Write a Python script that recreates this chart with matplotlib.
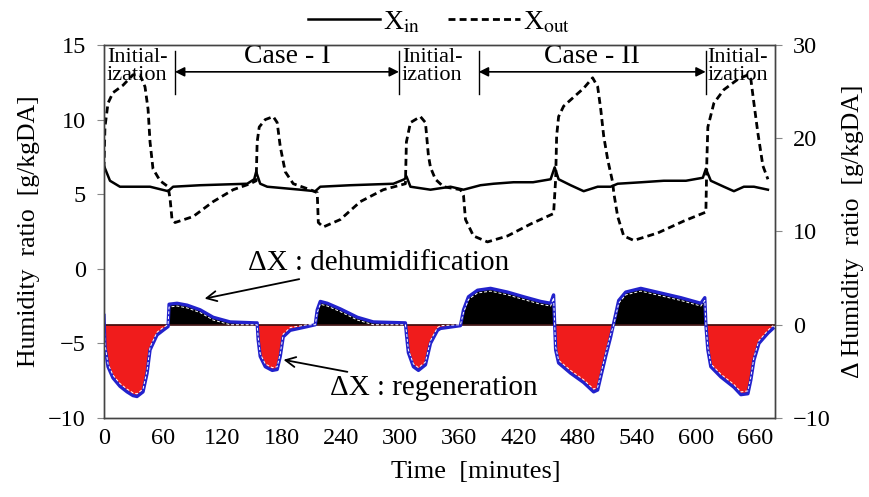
import numpy as np
import matplotlib.pyplot as plt

plt.rcParams['font.family'] = ['Liberation Serif', 'DejaVu Serif']
plt.rcParams['mathtext.fontset'] = 'stix'

# inlet humidity ratio [g/kgDA] (left axis)
t_in = [0, 6.1, 16.2, 46.7, 65.0, 70.1, 97.5, 145.2, 152.3, 154.3, 158.4, 165.5,
        199.0, 214.2, 219.3, 249.7, 293.4, 304.6, 306.6, 310.7, 331.0, 351.3,
        364.5, 381.7, 395.0, 415.2, 435.0, 452.8, 456.9, 460.9, 473.1, 486.3,
        500.5, 513.7, 520.8, 545.0, 567.5, 590.0, 607.1, 610.2, 615.2, 628.4,
        638.6, 648.7, 658.9, 673.1]
x_in = [6.9, 5.9, 5.5, 5.5, 5.2, 5.5, 5.6, 5.7, 6.0, 6.5, 5.7, 5.5,
        5.3, 5.2, 5.5, 5.6, 5.7, 6.0, 6.2, 5.5, 5.3, 5.5,
        5.3, 5.6, 5.7, 5.8, 5.8, 6.0, 6.8, 6.0, 5.6, 5.2,
        5.5, 5.5, 5.7, 5.8, 5.9, 5.9, 6.1, 6.7, 5.9, 5.5,
        5.2, 5.5, 5.5, 5.3]

# outlet humidity ratio [g/kgDA] (left axis)
t_out = [0, 1.0, 4.1, 9.1, 19.3, 29.4, 36.5, 41.6, 44.7, 46.7, 49.7, 56.9,
         65.0, 67.0, 69.0, 72.1, 90.4, 110.7, 131.0, 148.2, 154.3, 155.3,
         157.4, 163.5, 171.6, 175.6, 178.7, 183.8, 191.9, 209.1, 216.2, 217.3,
         222.3, 239.6, 259.9, 283.2, 305.6, 306.6, 310.7, 320.8, 325.9, 328.9,
         331.0, 336.0, 344.2, 361.4, 364.5, 366.5, 374.6, 388.8, 409.1, 432.5,
         455.8, 457.9, 458.9, 460.9, 466.0, 476.1, 486.3, 495.4, 500.5, 503.6,
         506.6, 510.7, 515.7, 516.8, 520.8, 526.9, 537.1, 561.4, 587.8, 610.2,
         611.2, 612.2, 618.3, 628.4, 642.6, 652.8, 655.8, 658.9, 662.9, 668.0,
         673.1]
x_out = [6.7, 9.5, 11.1, 11.8, 12.3, 13.0, 13.0, 12.2, 10.7, 8.5, 6.7, 5.9,
         5.5, 4.7, 3.3, 3.1, 3.5, 4.5, 5.3, 5.7, 5.9, 8.5,
         9.5, 10.0, 10.2, 9.8, 8.2, 6.5, 5.7, 5.3, 5.1, 3.1,
         2.8, 3.3, 4.5, 5.3, 5.7, 8.5, 9.8, 10.2, 9.8, 7.6,
         6.8, 6.0, 5.5, 5.3, 4.9, 3.3, 2.2, 1.8, 2.2, 3.0,
         3.7, 6.0, 8.9, 10.2, 10.9, 11.5, 12.1, 12.8, 12.2, 10.7,
         8.9, 7.3, 5.8, 5.1, 3.5, 2.2, 1.9, 2.4, 3.2, 3.8,
         7.3, 9.5, 11.1, 12.0, 12.7, 13.0, 12.7, 11.1, 9.1, 6.9,
         6.0]

# humidity difference [g/kgDA] (right axis)
t_dx = [0, 0.3, 1.0, 4.1, 9.1, 16.2, 23.4, 29.4, 33.5, 39.6, 43.7, 46.7,
        53.8, 59.9, 65.0, 66.0, 74.1, 84.3, 97.5, 110.7, 127.9, 153.3, 155.3,
        156.3, 158.4, 163.5, 170.6, 175.6, 178.7, 181.7, 188.8, 206.1, 214.2,
        216.2, 219.3, 226.4, 239.6, 256.9, 273.1, 305.6, 306.6, 308.6, 313.7,
        318.8, 325.9, 331.0, 338.1, 341.1, 361.4, 364.5, 369.5, 378.7, 391.9,
        409.1, 425.4, 442.6, 452.8, 455.8, 456.9, 457.9, 460.9, 473.1, 486.3,
        496.4, 500.5, 503.6, 508.6, 513.7, 516.8, 521.8, 528.9, 544.2, 564.5,
        584.8, 605.1, 609.1, 610.2, 612.2, 615.2, 625.4, 638.6, 645.7, 652.8,
        655.8, 658.9, 664.0, 673.1, 678.2]
dx = [1.0, 0.0, -2.4, -4.5, -5.7, -6.6, -7.2, -7.6, -7.7, -7.2, -5.2, -2.7,
      -1.1, -0.6, -0.2, 2.2, 2.3, 2.1, 1.6, 0.8, 0.3, 0.2, 0.2,
      -1.6, -3.4, -4.5, -4.9, -4.8, -3.4, -1.3, -0.6, -0.2, 0.0,
      1.6, 2.5, 2.3, 1.7, 0.8, 0.3, 0.2, -1.0, -3.0, -4.5,
      -4.9, -4.3, -2.0, -0.6, -0.4, -0.1, 1.6, 3.0, 3.7, 3.9,
      3.5, 3.0, 2.5, 2.3, 3.2, 0.0, -2.7, -4.1, -5.2, -6.2,
      -7.2, -7.0, -5.6, -3.4, -1.3, 0.2, 2.6, 3.5, 3.9, 3.4,
      2.9, 2.3, 2.9, 0.0, -2.7, -4.5, -5.6, -6.7, -7.5, -7.4,
      -5.9, -3.8, -2.0, -0.9, -0.4]

# phase boundaries [minutes]
phase_bounds = [72, 299, 380, 610]

fig = plt.figure(figsize=(8.7, 4.97), dpi=100)
ax = fig.add_axes([0.1195, 0.159, 0.771, 0.7505])
ax2 = ax.twinx()

l1, = ax.plot(t_in, x_in, color='black', lw=1.8)
l2, = ax.plot(t_out, x_out, color='black', lw=2, ls=(0, (2.5, 1.5)))

t_dx = np.array(t_dx)
dx = np.array(dx)
ax2.fill_between(t_dx, dx, 0, where=dx >= 0, color='black', lw=0, interpolate=True)
ax2.fill_between(t_dx, dx, 0, where=dx <= 0, color='#f01c1c', lw=0, interpolate=True)
ax2.axhline(0, color='#3a0c0c', lw=1.2)
ax2.plot(t_dx, dx, color='#2222cc', lw=2.4)
inner = np.sign(dx) * np.maximum(np.abs(dx) - 0.3, 0)
ax2.plot(t_dx, inner, color='white', lw=0.7, ls=(0, (3, 2)))

ax.set_xlim(0, 680)
ax.set_ylim(-10, 15)
ax2.set_ylim(-10, 30)
ax.set_xticks(range(0, 661, 60))
ax.set_yticks(range(-10, 16, 5))
ax2.set_yticks(range(-10, 31, 10))

for a in (ax, ax2):
    for s in a.spines.values():
        s.set_color('#444444')
        s.set_linewidth(1)
ax.tick_params(axis='y', labelsize=17.5, length=5, color='#888888', pad=8)
ax.tick_params(axis='x', labelsize=17.5, length=0, pad=7)
ax2.tick_params(axis='y', labelsize=17.5, length=5, color='#888888', pad=8)

ax.set_xlabel('Time  [minutes]', fontsize=19, labelpad=2)
ax.xaxis.set_label_coords(0.555, -0.115)
ax.set_ylabel('Humidity  ratio  [g/kgDA]', fontsize=18.5, labelpad=6)
ax2.set_ylabel('\u0394 Humidity  ratio  [g/kgDA]', fontsize=18.5, labelpad=8)

# phase markers
for b in phase_bounds:
    ax.plot([b, b], [11.7, 14.6], color='black', lw=1)
for a, b, name in [(phase_bounds[0], phase_bounds[1], 'Case - I'),
                   (phase_bounds[2], phase_bounds[3], 'Case - II')]:
    ax.annotate('', xy=(b, 13.2), xytext=(a, 13.2),
                arrowprops=dict(arrowstyle='<|-|>', color='black', lw=1.2,
                                mutation_scale=14, shrinkA=0, shrinkB=0))
    ax.text((a + b) / 2, 14.25, name, ha='center', va='center', fontsize=20)
for x0 in (3, phase_bounds[1] + 3, phase_bounds[3] + 2):
    ax.text(x0, 14.8, 'Initial-\nization', ha='left', va='top', fontsize=16,
            linespacing=0.95)

ax.annotate('\u0394X : dehumidification', xy=(102, -2.0), xytext=(146, 0.4),
            fontsize=21, va='center',
            arrowprops=dict(arrowstyle='->', color='black', lw=1.3,
                            mutation_scale=18, shrinkA=2, shrinkB=0))
ax.annotate('\u0394X : regeneration', xy=(182, -6.1), xytext=(229, -8.0),
            fontsize=21, va='center',
            arrowprops=dict(arrowstyle='->', color='black', lw=1.3,
                            mutation_scale=18, shrinkA=2, shrinkB=0))

fig.legend([l1, l2], ['X$_{\\rm in}$', 'X$_{\\rm out}$'], loc='center',
           bbox_to_anchor=(0.505, 0.955), ncol=2, frameon=False, fontsize=20,
           handlelength=2.6, handletextpad=0.1, columnspacing=1.0)

fig.savefig('out.png', dpi=100)
